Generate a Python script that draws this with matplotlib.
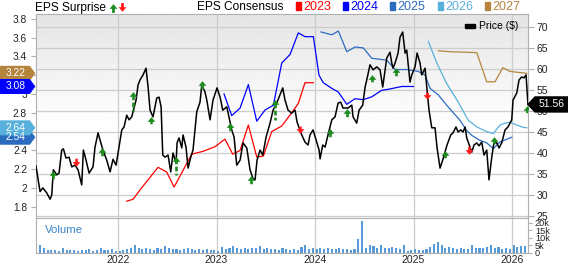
import numpy as np
import matplotlib
matplotlib.use("Agg")
import matplotlib.pyplot as plt
from matplotlib.patches import Polygon, Rectangle
from matplotlib.lines import Line2D
from matplotlib.transforms import IdentityTransform

plt.rcParams['font.family'] = ['Liberation Sans', 'DejaVu Sans']

# price ($), time as decimal year
price_t = [2021.167, 2021.208, 2021.236, 2021.276, 2021.310, 2021.327, 2021.343, 2021.378, 2021.401, 2021.428,
           2021.445, 2021.472, 2021.503, 2021.530, 2021.563, 2021.594, 2021.631, 2021.648, 2021.675, 2021.706,
           2021.746, 2021.766, 2021.797, 2021.817, 2021.848, 2021.885, 2021.919, 2021.949, 2021.980, 2022.010,
           2022.038, 2022.061, 2022.088, 2022.112, 2022.139, 2022.183, 2022.203, 2022.223, 2022.254, 2022.284,
           2022.305, 2022.325, 2022.355, 2022.393, 2022.416, 2022.437, 2022.454, 2022.477, 2022.508, 2022.535,
           2022.558, 2022.589, 2022.599, 2022.619, 2022.647, 2022.660, 2022.690, 2022.711, 2022.738, 2022.761,
           2022.799, 2022.832, 2022.850, 2022.883, 2022.901, 2022.934, 2022.964, 2023.005, 2023.036, 2023.063,
           2023.104, 2023.154, 2023.178, 2023.205, 2023.239, 2023.269, 2023.307, 2023.340, 2023.368, 2023.391,
           2023.411, 2023.442, 2023.469, 2023.503, 2023.543, 2023.574, 2023.611, 2023.672, 2023.695, 2023.726,
           2023.763, 2023.797, 2023.817, 2023.865, 2023.898, 2023.929, 2023.949, 2023.980, 2024.017, 2024.041,
           2024.051, 2024.078, 2024.102, 2024.119, 2024.170, 2024.203, 2024.234, 2024.261, 2024.284, 2024.335,
           2024.373, 2024.386, 2024.423, 2024.447, 2024.484, 2024.508, 2024.525, 2024.558, 2024.589, 2024.626,
           2024.660, 2024.687, 2024.711, 2024.728, 2024.761, 2024.779, 2024.792, 2024.812, 2024.843, 2024.863,
           2024.890, 2024.914, 2024.931, 2024.944, 2024.964, 2024.982, 2025.015, 2025.036, 2025.066, 2025.083,
           2025.117, 2025.137, 2025.157, 2025.185, 2025.218, 2025.239, 2025.269, 2025.296, 2025.340, 2025.378,
           2025.401, 2025.431, 2025.452, 2025.479, 2025.503, 2025.523, 2025.540, 2025.591, 2025.614, 2025.642,
           2025.665, 2025.692, 2025.716, 2025.743, 2025.766, 2025.794, 2025.817, 2025.845, 2025.868, 2025.895,
           2025.929, 2025.959, 2025.997, 2026.010, 2026.048, 2026.071, 2026.098, 2026.122, 2026.142, 2026.162]
price = [36.9, 30.8, 31.7, 30.5, 29.0, 30.0, 36.0, 34.8, 35.2, 40.7,
         41.0, 38.8, 39.0, 36.7, 37.1, 36.0, 32.4, 40.7, 38.3, 35.2,
         36.7, 41.4, 44.8, 43.1, 40.6, 38.3, 35.5, 38.5, 37.1, 41.5,
         45.5, 46.2, 49.0, 47.9, 48.6, 52.6, 56.2, 57.4, 58.6, 60.2,
         55.7, 50.2, 48.6, 53.1, 53.3, 51.0, 39.5, 39.0, 39.5, 35.5,
         40.0, 37.6, 42.4, 43.6, 41.2, 44.3, 41.4, 36.4, 39.0, 40.7,
         49.8, 52.1, 56.2, 54.5, 52.6, 47.9, 52.6, 55.5, 53.3, 50.2,
         51.0, 45.5, 43.8, 37.1, 38.3, 42.4, 41.2, 36.0, 34.0, 33.6,
         38.3, 40.7, 39.5, 43.8, 47.1, 50.2, 51.9, 55.5, 52.6, 50.2,
         49.5, 50.2, 47.4, 44.3, 42.6, 41.9, 44.3, 45.5, 42.6, 40.7,
         38.6, 41.9, 41.4, 43.1, 47.9, 48.6, 51.9, 52.1, 50.7, 50.7,
         51.4, 48.6, 47.1, 50.2, 51.4, 55.7, 57.4, 61.0, 59.8, 60.5,
         59.8, 55.7, 59.8, 62.6, 64.0, 61.4, 60.2, 61.4, 63.8, 67.6,
         68.8, 63.8, 64.5, 61.4, 56.9, 58.6, 60.5, 63.8, 61.4, 58.6,
         60.2, 55.0, 50.2, 46.0, 46.0, 41.2, 36.4, 38.3, 41.9, 44.3,
         44.8, 46.2, 45.0, 45.5, 45.0, 46.2, 43.6, 40.2, 41.9, 42.4,
         41.7, 42.6, 39.5, 40.7, 33.6, 39.0, 42.6, 42.4, 41.2, 42.4,
         45.5, 46.2, 47.9, 52.6, 54.3, 57.4, 58.1, 57.9, 58.6, 51.56]

# EPS consensus per fiscal year
eps23_t = [2022.088, 2022.152, 2022.223, 2022.406, 2022.494, 2022.569, 2022.748, 2022.863, 2022.985, 2023.086,
           2023.164, 2023.239, 2023.323, 2023.408, 2023.475, 2023.560, 2023.662, 2023.763, 2023.830, 2023.898,
           2023.983]
eps23 = [1.86, 1.88, 1.98, 2.22, 2.17, 2.01, 2.36, 2.39, 2.44, 2.52,
         2.36, 2.40, 2.67, 2.33, 2.34, 2.60, 2.66, 2.80, 2.90, 3.12,
         3.12]
eps24_t = [2023.076, 2023.154, 2023.239, 2023.323, 2023.408, 2023.492, 2023.577, 2023.662, 2023.746, 2023.830,
           2023.898, 2023.983, 2024.040, 2024.084, 2024.170, 2024.237, 2024.322, 2024.406, 2024.490, 2024.576,
           2024.677, 2024.744, 2024.880, 2024.998]
eps24 = [3.00, 2.77, 2.85, 3.10, 2.71, 2.83, 2.88, 3.33, 3.42, 3.65,
         3.61, 3.61, 3.20, 3.12, 3.06, 3.02, 2.89, 2.95, 2.94, 2.97,
         3.04, 3.05, 3.08, 3.08]
eps25_t = [2024.060, 2024.170, 2024.237, 2024.322, 2024.406, 2024.490, 2024.576, 2024.728, 2024.812, 2024.931,
           2025.049, 2025.117, 2025.168, 2025.252, 2025.337, 2025.404, 2025.472, 2025.540, 2025.591, 2025.668,
           2025.743, 2025.810, 2025.878, 2025.997]
eps25 = [3.66, 3.63, 3.67, 3.45, 3.50, 3.49, 3.38, 3.36, 3.26, 3.26,
         3.24, 3.20, 3.06, 2.99, 2.88, 2.80, 2.72, 2.61, 2.56, 2.51,
         2.48, 2.42, 2.49, 2.54]
eps26_t = [2025.150, 2025.236, 2025.337, 2025.439, 2025.556, 2025.642, 2025.743, 2025.810, 2025.878, 2025.929,
           2025.980, 2026.048, 2026.098, 2026.149]
eps26 = [3.56, 3.33, 3.11, 2.94, 2.72, 2.65, 2.60, 2.58, 2.67, 2.69,
         2.70, 2.67, 2.65, 2.64]
eps27_t = [2025.252, 2025.371, 2025.642, 2025.743, 2025.827, 2025.906, 2025.980, 2026.149]
eps27 = [3.46, 3.45, 3.44, 3.13, 3.13, 3.28, 3.24, 3.22]

# EPS surprises: date, price at arrow tip, arrow length ($)
beat_t = [2021.337, 2021.835, 2022.152, 2022.335, 2022.589, 2022.850, 2023.137, 2023.350,
          2023.594, 2024.152, 2024.322, 2024.576, 2024.822, 2025.320, 2025.817, 2026.149]
beat_p = [35.6, 41.1, 54.4, 48.6, 39.1, 57.0, 47.1, 34.5,
          52.6, 45.6, 50.4, 58.6, 60.2, 40.5, 43.9, 51.2]
beat_len = [2.0, 2.0, 4.5, 2.0, 4.4, 2.0, 2.0, 2.0,
            4.8, 2.0, 2.0, 2.0, 2.0, 2.0, 2.2, 2.0]
miss_t = [2021.574, 2023.848, 2025.137, 2025.563]
miss_p = [36.9, 44.7, 52.8, 39.9]
miss_len = [1.9, 1.8, 2.2, 2.0]

# volume (thousands), every two weeks from 2021.17
vol = [8.0, 5.0, 3.0, 2.0, 1.8, 2.2, 1.6, 3.5, 2.0, 1.8, 2.2, 1.5, 2.0,
       1.8, 2.5, 1.6, 2.0, 3.0, 2.2, 1.8, 2.4, 1.5, 1.2, 2.0, 2.5, 3.0,
       5.5, 3.5, 2.5, 3.0, 2.8, 2.2, 3.0, 2.6, 4.5, 3.2, 2.5, 2.8, 2.2,
       2.6, 3.0, 2.4, 2.0, 2.8, 2.2, 2.5, 2.0, 1.8, 1.6, 4.0, 2.5, 3.0,
       4.5, 3.0, 2.8, 3.2, 2.6, 3.5, 3.0, 4.5, 2.6, 3.0, 2.4, 2.8, 2.2,
       3.0, 2.4, 2.0, 2.6, 2.2, 4.0, 5.0, 2.5, 3.0, 2.8, 3.2, 2.6, 3.0,
       2.8, 2.5, 3.0, 2.4, 2.6, 2.2, 2.5, 9.5, 21.5, 3.0, 5.5, 4.5, 3.0,
       5.0, 3.5, 3.0, 4.0, 3.0, 2.5, 5.0, 1.5, 2.0, 2.5, 2.0, 1.8, 2.5,
       4.0, 6.0, 7.0, 5.0, 3.5, 4.0, 3.0, 2.8, 3.2, 2.5, 2.8, 5.0, 3.2,
       3.5, 3.0, 4.0, 5.0, 3.2, 4.0, 2.8, 3.0, 2.5, 5.0, 4.0, 4.8, 4.5]
vol_t = 2021.17 + np.arange(len(vol)) / 26.0

years = [2022, 2023, 2024, 2025, 2026]
price_ticks = [25, 30, 35, 40, 45, 50, 55, 60, 65, 70]
eps_ticks = [1.8, 2.0, 2.2, 2.4, 2.6, 2.8, 3.0, 3.2, 3.4, 3.6, 3.8]
# 3.2 and 2.6 sit under the value tags
eps_labels = ['1.8', '2', '2.2', '2.4', '', '2.8', '3', '', '3.4', '3.6', '3.8']

c23, c24, c25, c26, c27 = '#ff0000', '#0000ff', '#2b6cc0', '#58b0dc', '#b5853e'
green, red = '#1e8c1e', '#ff1a1a'
grid_c, spine_c = '#cccccc', '#b0b0b0'

fig = plt.figure(figsize=(5.68, 2.64), dpi=100)
rect_p = [36/568, 46/264, 492/568, 204/264]
rect_v = [36/568, 11/264, 492/568, 35/264]

ax_bg = fig.add_axes(rect_p)
ax_eps = fig.add_axes(rect_p, sharex=ax_bg)
ax_top = fig.add_axes(rect_p, sharex=ax_bg)
ax_v = fig.add_axes(rect_v, sharex=ax_bg)

x0, x1 = 2021.167, 2026.162
ax_bg.set_xlim(x0, x1)
ax_bg.set_ylim(24.52, 73.1)
ax_top.set_ylim(24.52, 73.1)
ax_eps.set_ylim(1.681, 3.851)

# background gradient
grad = np.ones((100, 1))
n = 55
grad[:n, 0] = np.linspace(0.895, 1.0, n)
ax_bg.imshow(grad, cmap='gray', vmin=0, vmax=1, aspect='auto', extent=[0, 1, 0, 1],
             transform=ax_bg.transAxes, zorder=0)
ax_bg.set_yticks(price_ticks)
ax_bg.set_xticks(years)
ax_bg.grid(True, color=grid_c, lw=0.9)
ax_bg.set_axisbelow(True)
ax_bg.yaxis.tick_right()
ax_bg.tick_params(axis='y', length=4, pad=2, labelsize=7.5, colors=spine_c, labelcolor='#222222')
ax_bg.tick_params(axis='x', length=0, labelbottom=False)
for s in ax_bg.spines.values():
    s.set_color(spine_c)

for a in (ax_eps, ax_top):
    a.patch.set_visible(False)
    for s in a.spines.values():
        s.set_visible(False)
    a.tick_params(axis='x', length=0, labelbottom=False)

ax_eps.set_yticks(eps_ticks)
ax_eps.set_yticklabels(eps_labels)
ax_eps.tick_params(axis='y', length=3.5, pad=3, labelsize=7.3, colors=spine_c, labelcolor='#222222')
ax_top.set_yticks([])

for t, v, c in [(eps23_t, eps23, c23), (eps24_t, eps24, c24), (eps25_t, eps25, c25),
                (eps26_t, eps26, c26), (eps27_t, eps27, c27)]:
    ax_eps.plot(t, v, color=c, lw=0.9)

ax_top.plot(price_t, price, color='black', lw=1.1)

# surprise arrows
head = [(-1, -0.6), (1, -0.6), (0, 0.6)]
head_dn = [(-1, 0.6), (1, 0.6), (0, -0.6)]
for t, p, ln in zip(beat_t, beat_p, beat_len):
    ax_top.plot([t, t], [p - 0.6, p - ln], color=green, lw=1.9, dashes=(1.8, 0.9))
    ax_top.plot([t], [p - 0.45], marker=head, ms=5.6, color=green, mew=0)
for t, p, ln in zip(miss_t, miss_p, miss_len):
    ax_top.plot([t, t], [p + 0.6, p + ln], color=red, lw=1.9, dashes=(1.8, 0.9))
    ax_top.plot([t], [p + 0.45], marker=head_dn, ms=5.6, color=red, mew=0)

# volume panel
ax_v.bar(vol_t, vol, width=0.55 / 26, color='#5a9ad6', align='center', zorder=2)
ax_v.set_ylim(0, 23.3)
ax_v.set_yticks([0, 5, 10, 15, 20])
ax_v.set_yticklabels(['0', '5k', '10k', '15k', '20k'])
ax_v.yaxis.tick_right()
ax_v.tick_params(axis='y', length=3, pad=2, labelsize=6.6, colors=spine_c, labelcolor='#222222')
ax_v.set_xticks(years)
ax_v.set_xticklabels([str(y) for y in years])
ax_v.tick_params(axis='x', length=0, pad=1.5, labelsize=7.5, labelcolor='#222222')
ax_v.grid(True, axis='x', color=grid_c, lw=0.9)
ax_v.set_axisbelow(True)
for s in ax_v.spines.values():
    s.set_color(spine_c)

idt = IdentityTransform()
fig.text(45, 31, 'Volume', transform=idt, color='#3a87c8', fontsize=8.2, va='baseline')

# header
fig.text(35, 253.5, 'EPS Surprise', transform=idt, fontsize=8.6, va='baseline')
for hx, c, up in [(112.5, green, True), (121.5, red, False)]:
    if up:
        fig.add_artist(Line2D([hx, hx], [253, 257], color=c, lw=2, transform=idt))
        fig.add_artist(Line2D([hx], [258], marker=head, ms=5.6, color=c, mew=0, transform=idt))
    else:
        fig.add_artist(Line2D([hx, hx], [260.5, 256.5], color=c, lw=2, transform=idt))
        fig.add_artist(Line2D([hx], [255.5], marker=head_dn, ms=5.6, color=c, mew=0, transform=idt))
fig.text(197, 253.5, 'EPS Consensus', transform=idt, fontsize=8.6, va='baseline')
for lx, lab, c in [(296, '2023', c23), (343, '2024', c24), (390, '2025', c25),
                   (438, '2026', c26), (485, '2027', c27)]:
    fig.add_artist(Rectangle((lx, 254), 5, 8, transform=idt, color=c))
    fig.text(lx + 7, 253.5, lab, transform=idt, fontsize=9, color=c, va='baseline')

# price legend
fig.add_artist(Rectangle((465, 236), 10, 4.5, transform=idt, color='black'))
fig.text(479, 238, 'Price ($)', transform=idt, fontsize=7.5, va='center')


def left_tag(val, color):
    yc = ax_eps.transData.transform((0, val))[1]
    h = 6.8
    fig.add_artist(Polygon([(0, yc - h), (29.5, yc - h), (34.5, yc), (29.5, yc + h), (0, yc + h)],
                           closed=True, transform=idt, color=color, zorder=5))
    fig.text(15.5, yc, f'{val:.2f}', transform=idt, fontsize=7.4, color='white',
             ha='center', va='center', zorder=6)


left_tag(eps27[-1], c27)
left_tag(eps24[-1], c24)
left_tag(eps25[-1], c25)
left_tag(eps26[-1], c26)

yc = ax_top.transData.transform((0, price[-1]))[1]
h = 7.5
fig.add_artist(Polygon([(528, yc), (535, yc - h), (568, yc - h), (568, yc + h), (535, yc + h)],
                       closed=True, transform=idt, color='black', zorder=5))
fig.text(551.5, yc, f'{price[-1]:.2f}', transform=idt, fontsize=7.5, color='white',
         ha='center', va='center', zorder=6)

fig.savefig('out.png', dpi=100)
